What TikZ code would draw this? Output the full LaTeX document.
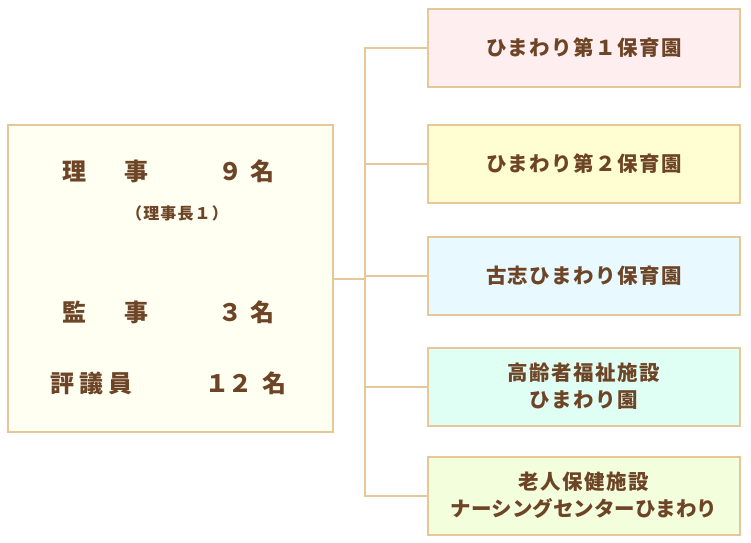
\documentclass[tikz,border=0pt]{standalone}
\usepackage{fontspec}
\newfontfamily\jp{Noto Sans CJK JP}[LetterSpace=7]
\newfontfamily\jpplain{Noto Sans CJK JP}
\definecolor{frame}{HTML}{E6C797}
\definecolor{ink}{HTML}{6E4426}
\definecolor{boardbg}{HTML}{FFFFF2}
\definecolor{pinkbg}{HTML}{FFEEF0}
\definecolor{yellowbg}{HTML}{FFFDD2}
\definecolor{bluebg}{HTML}{E8FAFF}
\definecolor{mintbg}{HTML}{E0FFF4}
\definecolor{greenbg}{HTML}{F3FFDC}

\def\boxX{584}

\begin{document}
\begin{tikzpicture}[x=1pt,y=-1pt,
    box/.style={draw=frame,line width=2pt,minimum width=312pt,minimum height=78pt,
      inner sep=0pt,align=center,text=ink,font=\jp\bfseries\fontsize{20.5}{27}\selectfont},
    wire/.style={draw=frame,line width=2pt},
    lbl/.style={text=ink,inner sep=0pt,font=\jpplain\bfseries\fontsize{24}{24}\selectfont},
    note/.style={text=ink,inner sep=0pt,font=\jp\bfseries\fontsize{16}{16}\selectfont}]
  \useasboundingbox (0,0) rectangle (751,542);

  \node[box,fill=boardbg,minimum width=325pt,minimum height=307pt]
    (board) at (170.5,278.5) {};

  \node[lbl,anchor=west] (riji) at (62,171) {理\hspace{38pt}事};
  \node[lbl,anchor=east] (rijinum) at (275,171) {９\hspace{8pt}名};
  \node[note] (rijicho) at (177,213) {（理事長１）};
  \node[lbl,anchor=west] (kanji) at (62,312) {監\hspace{38pt}事};
  \node[lbl,anchor=east] (kanjinum) at (275,312) {３\hspace{8pt}名};
  \node[lbl,anchor=west] (hyogiin) at (50,383) {評\hspace{5pt}議\hspace{5pt}員};
  \node[lbl,anchor=east] (hyogiinnum) at (287,383) {１\hspace{-1pt}２\hspace{10pt}名};

  \node[box,fill=pinkbg] (hoiku1) at (\boxX,48) {ひまわり第１保育園};
  \node[box,fill=yellowbg] (hoiku2) at (\boxX,164) {ひまわり第２保育園};
  \node[box,fill=bluebg] (koshi) at (\boxX,276) {古志ひまわり保育園};
  \node[box,fill=mintbg] (koureisha) at (\boxX,386.5) {高齢者福祉施設\\ひまわり園};
  \node[box,fill=greenbg] (roujin) at (\boxX,495.5)
    {老人保健施設\\{\addfontfeature{LetterSpace=0}ナーシングセンターひまわり}};

  \coordinate (trunk) at (365,0);
  \draw[wire] (board.east) -- (board.east -| trunk);
  \draw[wire] (hoiku1.west) -| (trunk |- roujin.west) -- (roujin.west);
  \foreach \n in {hoiku2,koshi,koureisha}
    \draw[wire] (\n.west) -- (\n.west -| trunk);
\end{tikzpicture}
\end{document}
